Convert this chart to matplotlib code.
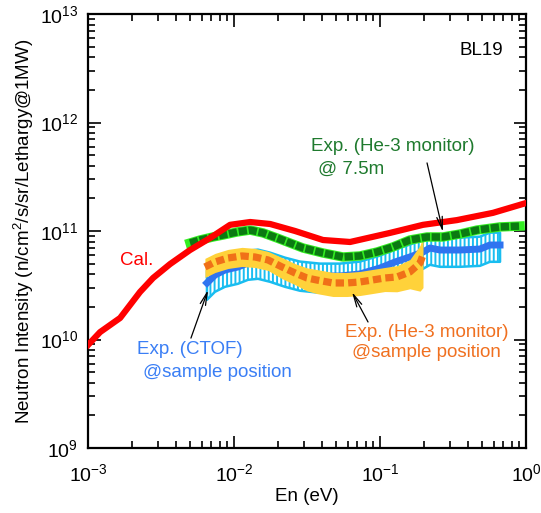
import matplotlib
matplotlib.use('Agg')
import matplotlib.pyplot as plt
import matplotlib.ticker as mticker
import numpy as np

plt.rcParams['font.family'] = ['Liberation Sans', 'DejaVu Sans']
plt.rcParams['mathtext.fontset'] = 'custom'
plt.rcParams['mathtext.rm'] = 'Liberation Sans'
plt.rcParams['mathtext.default'] = 'regular'
plt.rcParams['axes.unicode_minus'] = False
plt.rcParams['hatch.linewidth'] = 1.4
plt.rcParams['lines.scale_dashes'] = False

# calculated spectrum
cal_e = [0.001, 0.00121, 0.00166, 0.00227, 0.00279, 0.00365, 0.0050, 0.00686, 0.0094,
         0.0129, 0.0177, 0.0262, 0.0407, 0.0624, 0.117, 0.197, 0.336, 0.594, 1.0]
cal_flux = [8.9e9, 1.17e10, 1.58e10, 2.74e10, 3.69e10, 4.96e10, 6.68e10, 8.62e10, 1.14e11,
            1.21e11, 1.16e11, 1.0e11, 8.26e10, 7.92e10, 9.6e10, 1.14e11, 1.26e11, 1.47e11, 1.81e11]

# He-3 monitor at 7.5 m
mon_e = [0.0050, 0.00585, 0.00718, 0.00841, 0.0105, 0.0129, 0.0158, 0.0197, 0.0242, 0.0297,
         0.0407, 0.0558, 0.0729, 0.0953, 0.1227, 0.160, 0.21, 0.27, 0.353, 0.461, 0.664, 0.91]
mon_flux = [7.75e10, 8.26e10, 8.81e10, 9.18e10, 9.8e10, 1.02e11, 9.6e10, 8.62e10, 7.75e10, 6.97e10,
            6.27e10, 5.76e10, 5.89e10, 6.40e10, 7.13e10, 8.26e10, 8.81e10, 8.81e10, 9.38e10, 1.02e11,
            1.09e11, 1.11e11]

# CTOF at sample position
ctof_e = [0.00653, 0.00741, 0.00867, 0.01064, 0.01247, 0.01459, 0.01766, 0.02234, 0.0283, 0.0388,
          0.0532, 0.0729, 0.1, 0.1267, 0.160, 0.197, 0.22, 0.2576, 0.353, 0.484, 0.566, 0.664]
ctof_flux = [3.32e10, 3.93e10, 4.37e10, 4.66e10, 5.07e10, 5.18e10, 4.86e10, 4.37e10, 4.02e10, 3.85e10,
             3.85e10, 4.02e10, 4.56e10, 5.18e10, 5.76e10, 6.40e10, 6.97e10, 6.68e10, 6.68e10, 6.82e10,
             7.43e10, 7.43e10]
ctof_err = 0.3

# He-3 monitor at sample position
he3s_e = [0.00632, 0.00741, 0.0091, 0.01135, 0.01393, 0.0171, 0.02133, 0.0262, 0.0316, 0.037,
          0.0476, 0.0594, 0.0729, 0.0881, 0.108, 0.1305, 0.160, 0.188, 0.197]
he3s_flux = [4.66e10, 5.18e10, 5.64e10, 5.89e10, 5.76e10, 5.41e10, 4.66e10, 4.10e10, 3.69e10, 3.53e10,
             3.32e10, 3.32e10, 3.39e10, 3.53e10, 3.69e10, 3.77e10, 4.19e10, 5.07e10, 6.01e10]
he3s_err = [0.2, 0.2, 0.2, 0.2, 0.2, 0.2, 0.22, 0.22, 0.24, 0.25,
            0.25, 0.25, 0.25, 0.25, 0.25, 0.27, 0.3, 0.45, 0.5]

fig = plt.figure(figsize=(5.41, 5.13), dpi=100)
ax = fig.add_axes([88 / 541, 1 - 448 / 513, 438 / 541, 434 / 513])
ax.set_xscale('log')
ax.set_yscale('log')
ax.set_xlim(1e-3, 1)
ax.set_ylim(1e9, 1e13)

# CTOF with vertical error bars
cf = np.array(ctof_flux)
ax.fill_between(ctof_e, cf * (1 - ctof_err), cf * (1 + ctof_err), facecolor='none',
                edgecolor='#19bdf0', hatch='||||', lw=1.8, zorder=1)
ax.plot(ctof_e, ctof_flux, color='#2f74f0', lw=5, zorder=2)

# He-3 at sample position with error band
hf = np.array(he3s_flux)
he = np.array(he3s_err)
ax.fill_between(he3s_e, hf * (1 - he), hf * (1 + he), color='#ffd23a', lw=0, zorder=3)
ax.plot(he3s_e, he3s_flux, color='#f07018', lw=5.2, dashes=(6, 3), dash_capstyle='butt', zorder=4)

# He-3 monitor: dark green blocks on a light green underlay
ax.plot(mon_e, mon_flux, color='#33ee22', lw=6.8, zorder=5)
ax.plot(mon_e, mon_flux, color='#0b7a12', lw=5.4, dashes=(6, 1.2), dash_capstyle='butt', zorder=5)

ax.plot(cal_e, cal_flux, color='#ff0000', lw=4.5, zorder=6, solid_joinstyle='round')

ax.tick_params(which='both', direction='in', top=True, right=True, width=1.2, labelsize=14)
ax.tick_params(which='major', length=9, pad=7)
ax.tick_params(axis='x', which='major', pad=11)
ax.tick_params(which='minor', length=5)
ax.xaxis.set_minor_formatter(mticker.NullFormatter())
ax.yaxis.set_minor_formatter(mticker.NullFormatter())
for s in ax.spines.values():
    s.set_linewidth(1.6)

ax.set_xlabel('En (eV)', fontsize=13.5, labelpad=2)
ax.set_ylabel('Neutron Intensity (n/cm$^2$/s/sr/Lethargy@1MW)', fontsize=13.5, labelpad=3)

ax.text(0.947, 0.915, 'BL19', transform=ax.transAxes, ha='right', va='center', fontsize=13.5)
ax.text(0.073, 0.431, 'Cal.', transform=ax.transAxes, ha='left', va='center', fontsize=13.5, color='#ff0000')

green = '#1f7a2e'
ax.text(0.509, 0.694, 'Exp. (He-3 monitor)', transform=ax.transAxes, va='center', fontsize=13.5, color=green)
ax.text(0.525, 0.641, '@ 7.5m', transform=ax.transAxes, va='center', fontsize=13.5, color=green)

blue = '#3a7ef5'
ax.text(0.112, 0.226, 'Exp. (CTOF)', transform=ax.transAxes, va='center', fontsize=13.5, color=blue)
ax.text(0.126, 0.173, '@sample position', transform=ax.transAxes, va='center', fontsize=13.5, color=blue)

orange = '#f07020'
ax.text(0.587, 0.267, 'Exp. (He-3 monitor)', transform=ax.transAxes, va='center', fontsize=13.5, color=orange)
ax.text(0.603, 0.219, '@sample position', transform=ax.transAxes, va='center', fontsize=13.5, color=orange)

arrow = dict(arrowstyle='->,head_length=0.9,head_width=0.2', lw=0.9, color='black',
             shrinkA=0, shrinkB=0)
ax.annotate('', xy=(0.27, 9.8e10), xytext=(0.21, 4.24e11), arrowprops=arrow, zorder=7)
ax.annotate('', xy=(0.00664, 2.86e10), xytext=(0.00507, 1.03e10), arrowprops=arrow, zorder=7)
ax.annotate('', xy=(0.0643, 2.74e10), xytext=(0.0828, 1.45e10), arrowprops=arrow, zorder=7)

fig.savefig('out.png', dpi=100)
